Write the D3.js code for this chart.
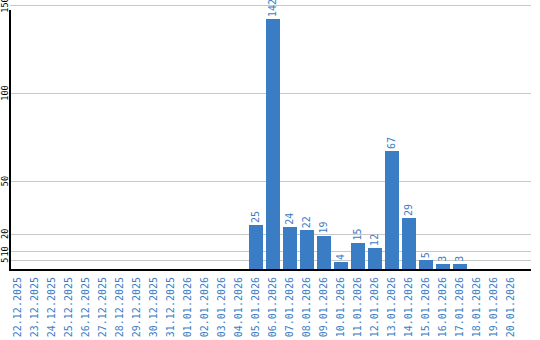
<!DOCTYPE html>
<html>
<head>
<meta charset="utf-8">
<script src="https://cdn.jsdelivr.net/npm/d3@7"></script>
<style>
  body { margin: 0; background: #fff; }
  svg { display: block; }
  text { font-family: "DejaVu Sans Mono", monospace; }
</style>
</head>
<body>
<svg id="canvas"></svg>
<script>
let dates = ['22.12.2025', '23.12.2025', '24.12.2025', '25.12.2025', '26.12.2025', '27.12.2025',
             '28.12.2025', '29.12.2025', '30.12.2025', '31.12.2025', '01.01.2026', '02.01.2026',
             '03.01.2026', '04.01.2026', '05.01.2026', '06.01.2026', '07.01.2026', '08.01.2026',
             '09.01.2026', '10.01.2026', '11.01.2026', '12.01.2026', '13.01.2026', '14.01.2026',
             '15.01.2026', '16.01.2026', '17.01.2026', '18.01.2026', '19.01.2026', '20.01.2026']
let counts = [0, 0, 0, 0, 0, 0, 0, 0, 0, 0, 0, 0, 0, 0,
              25, 142, 24, 22, 19, 4, 15, 12, 67, 29, 5, 3, 3, 0, 0, 0]
let yTicks = [5, 10, 20, 50, 100, 150]

let width = 540
let height = 340
let left = 10
let baseY = 269
let blue = '#3b7dc4'

let canvas = d3.select('#canvas')
canvas.attr('width', width)
      .attr('height', height)

let xScale = d3.scaleBand()
               .domain(dates)
               .range([left - 1, left - 1 + 17 * dates.length])
               .paddingInner(3 / 17)
               .paddingOuter(1.5 / 17)

let yScale = d3.scaleLinear()
               .domain([0, 150])
               .range([baseY, 5])

let items = dates.map((d, i) => ({ date: d, value: counts[i] }))
                 .filter((item) => item.value > 0)

// grid lines
canvas.append('g')
      .selectAll('line')
      .data(yTicks)
      .enter()
      .append('line')
      .attr('x1', left)
      .attr('x2', 531)
      .attr('y1', (d) => Math.round(yScale(d)) + 0.5)
      .attr('y2', (d) => Math.round(yScale(d)) + 0.5)
      .attr('stroke', '#c8c8c8')
      .attr('stroke-width', 1)

// y labels
canvas.append('g')
      .selectAll('text')
      .data(yTicks)
      .enter()
      .append('text')
      .attr('transform', (d) => 'translate(8,' + yScale(d) + ') rotate(-90)')
      .attr('text-anchor', 'middle')
      .attr('font-size', 8.5)
      .attr('fill', '#000')
      .text((d) => d)

// bars
canvas.append('g')
      .selectAll('rect')
      .data(items)
      .enter()
      .append('rect')
      .attr('x', (item) => Math.round(xScale(item.date)))
      .attr('width', Math.round(xScale.bandwidth()))
      .attr('y', (item) => Math.round(yScale(item.value)))
      .attr('height', (item) => baseY + 1 - Math.round(yScale(item.value)))
      .attr('fill', blue)

// value labels
canvas.append('g')
      .selectAll('text')
      .data(items)
      .enter()
      .append('text')
      .attr('transform', (item) => 'translate(' + (xScale(item.date) + xScale.bandwidth() / 2 + 3.5) + ','
                                   + (yScale(item.value) - 2) + ') rotate(-90)')
      .attr('font-size', 10)
      .attr('fill', blue)
      .text((item) => item.value)

// axes
canvas.append('line')
      .attr('x1', left).attr('x2', left)
      .attr('y1', 10).attr('y2', baseY + 2)
      .attr('stroke', '#000')
      .attr('stroke-width', 2)
canvas.append('line')
      .attr('x1', left).attr('x2', 531)
      .attr('y1', baseY + 1).attr('y2', baseY + 1)
      .attr('stroke', '#000')
      .attr('stroke-width', 2)

// x labels
canvas.append('g')
      .selectAll('text')
      .data(dates)
      .enter()
      .append('text')
      .attr('transform', (d) => 'translate(' + (xScale(d) + xScale.bandwidth() / 2 + 3.5) + ',' + (baseY + 8) + ') rotate(-90)')
      .attr('text-anchor', 'end')
      .attr('font-size', 10)
      .attr('fill', blue)
      .text((d) => d)
</script>
</body>
</html>
